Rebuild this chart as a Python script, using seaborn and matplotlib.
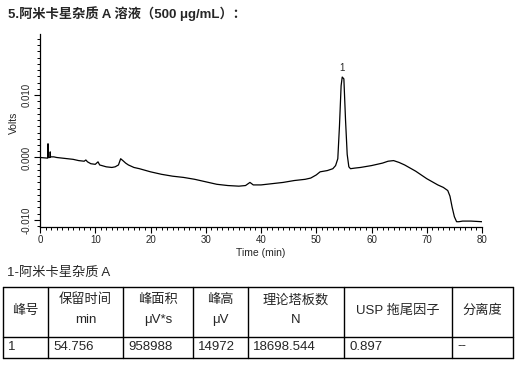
import numpy as np
import pandas as pd
import matplotlib
matplotlib.use('Agg')
import matplotlib.pyplot as plt
from matplotlib.ticker import MultipleLocator, FormatStrFormatter
import seaborn as sns

# chromatogram trace (min, V)
time_min = [0, 1.3, 1.4, 1.45, 1.5, 1.8, 1.85, 1.9, 2.5, 3, 4, 5, 6, 7, 8, 8.3, 8.6,
            9.2, 10, 10.5, 10.8, 12, 13, 13.6, 14.2, 14.6, 15.0, 15.5, 16, 17, 18,
            20, 22, 24, 26, 28, 30, 32, 34, 36, 37.2, 38.0, 38.6, 40, 42, 44, 46, 48,
            49, 50, 50.7, 52, 53, 53.5, 53.9, 54.2, 54.5, 54.7, 55.0, 55.3, 55.6,
            55.9, 56.2, 57, 58, 60, 62, 63, 64, 65, 66, 67, 68, 69, 70, 71, 72, 73,
            73.8, 74.2, 74.6, 75, 75.4, 75.8, 76.5, 78, 80]
volts = [0.0000, -0.0001, -0.0001, 0.0022, 0.0000, 0.0000, 0.0009, 0.0001, 0.0001,
         0.0000, -0.0001, -0.0002, -0.0003, -0.0005, -0.0006, -0.0004, -0.0007,
         -0.0010, -0.0011, -0.0007, -0.0012, -0.0015, -0.0016, -0.0015, -0.0012,
         -0.0002, -0.0005, -0.0009, -0.0012, -0.0016, -0.0018, -0.0023, -0.0027,
         -0.0030, -0.0032, -0.0035, -0.0039, -0.0043, -0.0045, -0.0046, -0.0045,
         -0.0040, -0.0044, -0.0044, -0.0042, -0.0040, -0.0037, -0.0035, -0.0033,
         -0.0028, -0.0023, -0.0021, -0.0018, -0.0013, -0.0002, 0.0050, 0.0115,
         0.0129, 0.0126, 0.0060, 0.0005, -0.0015, -0.0018, -0.0017, -0.0016,
         -0.0013, -0.0009, -0.0006, -0.0005, -0.0008, -0.0012, -0.0017, -0.0022,
         -0.0028, -0.0034, -0.0039, -0.0044, -0.0048, -0.0053, -0.0062, -0.0080,
         -0.0095, -0.0103, -0.0103, -0.0102, -0.0102, -0.0103]

peak_time = 54.7
peak_height = 0.0129
peak_name = '1'

title = '5.阿米卡星杂质 A 溶液（500 μg/mL）：'
table_title = '1-阿米卡星杂质 A'
col_names = ['峰号', '保留时间', '峰面积', '峰高', '理论塔板数', 'USP 拖尾因子', '分离度']
col_units = ['', 'min', 'μV*s', 'μV', 'N', '', '']
row_values = ['1', '54.756', '958988', '14972', '18698.544', '0.897', '--']

sns.set_theme(style='ticks')
plt.rcParams['font.family'] = ['Liberation Sans', 'Noto Sans CJK SC']
plt.rcParams['axes.unicode_minus'] = False

W, H = 524, 365
fig = plt.figure(figsize=(W / 100, H / 100), dpi=100)

# 色谱图
ax = fig.add_axes([40 / W, 1 - 226.7 / H, 442 / W, 192.7 / H])
df = pd.DataFrame({'t': time_min, 'v': volts})
sns.lineplot(data=df, x='t', y='v', ax=ax, color='black', lw=0.9, sort=False)
ax.set_xlim(0, 80)
ax.set_ylim(-0.0111, 0.0198)
ax.set_xlabel('')
ax.set_ylabel('')
sns.despine(ax=ax)
for s in ['left', 'bottom']:
    ax.spines[s].set_linewidth(0.9)
    ax.spines[s].set_color('black')
ax.xaxis.set_major_locator(MultipleLocator(10))
ax.xaxis.set_minor_locator(MultipleLocator(1))
ax.yaxis.set_major_locator(MultipleLocator(0.01))
ax.yaxis.set_minor_locator(MultipleLocator(0.001))
ax.yaxis.set_major_formatter(FormatStrFormatter('%.3f'))
ax.tick_params(which='major', length=4, width=0.8, labelsize=7, pad=2, color='black')
ax.tick_params(which='minor', length=2, width=0.7, color='black')
plt.setp(ax.get_yticklabels(), rotation=90, va='center')
ax.annotate(peak_name, (peak_time, peak_height), xytext=(0, 3),
            textcoords='offset points', ha='center', va='bottom', fontsize=7)

fig.text(14 / W, 1 - 123 / H, 'Volts', rotation=90, ha='center', va='center', fontsize=7.5)
fig.text(261 / W, 1 - 252.5 / H, 'Time (min)', ha='center', va='center', fontsize=7.5)
fig.text(8 / W, 1 - 14 / H, title, ha='left', va='center', fontsize=9.5, fontweight='bold')
fig.text(7 / W, 1 - 273 / H, table_title, ha='left', va='center', fontsize=9.5)

# 结果表格
tab = fig.add_axes([0, 0, 1, 1])
tab.set_xlim(0, W)
tab.set_ylim(H, 0)
tab.axis('off')
col_edges = [3, 48, 123, 193, 248, 344, 452, 513]
row_edges = [287, 336.5, 358]
for x in col_edges:
    tab.plot([x, x], [row_edges[0], row_edges[-1]], color='black', lw=1.0)
for y in row_edges:
    tab.plot([col_edges[0], col_edges[-1]], [y, y], color='black', lw=1.0)
for i, (name, unit, val) in enumerate(zip(col_names, col_units, row_values)):
    xc = (col_edges[i] + col_edges[i + 1]) / 2
    if unit:
        tab.text(xc, 300, name, ha='center', va='center', fontsize=9.5)
        tab.text(xc, 320, unit, ha='center', va='center', fontsize=9.5)
    else:
        tab.text(xc, 311, name, ha='center', va='center', fontsize=9.5)
    tab.text(col_edges[i] + 5, 346.5, val, ha='left', va='center', fontsize=9.5)

fig.savefig('out.png', dpi=100)
